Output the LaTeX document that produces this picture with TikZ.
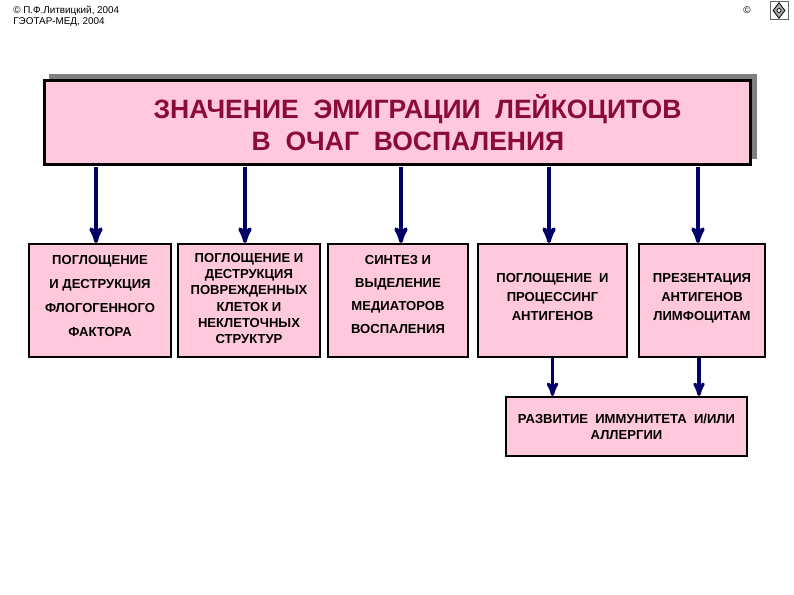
\documentclass[tikz,border=0pt]{standalone}
\usepackage{fontspec}
\setmainfont{Liberation Sans}
\usetikzlibrary{arrows,shadows,shapes.geometric}
\definecolor{rosefill}{HTML}{FFC8DC}
\definecolor{wine}{HTML}{8A0A3C}
\definecolor{arrownavy}{HTML}{000066}
\begin{document}
\begin{tikzpicture}[x=0.75pt,y=0.75pt,>=stealth',semithick]
\tikzstyle{boxy}=[draw=black,fill=rosefill,line width=1.5pt,align=center,inner sep=0pt,font=\fontsize{9.8}{12}\selectfont\bfseries]
\tikzstyle{link}=[->,draw=arrownavy,line width=2.8pt]
\tikzstyle{smalllink}=[->,draw=arrownavy,line width=2.3pt]
\tikzstyle{imprint}=[inner sep=0pt,anchor=west,font=\fontsize{7.4}{8}\selectfont]
\useasboundingbox (0,0) rectangle (794,-595);
% header
\node[imprint] (copyA) at (13,-10.5) {© П.Ф.Литвицкий, 2004};
\node[imprint] (copyB) at (13,-22.5) {ГЭОТАР-МЕД, 2004};
\node[imprint] (copyC) at (743,-10) {©};
\node[draw=black!60,line width=0.5pt,minimum width=13.5pt,minimum height=14pt,inner sep=0pt] (icon) at (779,-10.5) {};
\node[diamond,draw=black,fill=black!35,line width=0.6pt,minimum width=9pt,minimum height=12pt,inner sep=0pt] (iconB) at (icon) {};
\node[draw=black,fill=white,circle,line width=0.5pt,minimum size=3pt,inner sep=0pt] (iconC) at (icon) {};
% title
\node[draw=black,fill=rosefill,line width=2.25pt,minimum width=529.5pt,minimum height=63pt,align=center,inner sep=0pt,text=wine,
  font=\fontsize{19.9}{24}\selectfont\bfseries,
  drop shadow={shadow xshift=4.5pt,shadow yshift=4.5pt,shadow scale=1.004,fill=black!50,opacity=1}] (title) at (397,-122.5)
  {\hspace*{30.8pt}ЗНАЧЕНИЕ~~ЭМИГРАЦИИ~~ЛЕЙКОЦИТОВ\\\hspace*{16.5pt}В~~ОЧАГ~~ВОСПАЛЕНИЯ};
% first row
\node[boxy,minimum width=106.5pt,minimum height=84.75pt] (p1) at (100,-300.5)
  {ПОГЛОЩЕНИЕ\\[6pt]И ДЕСТРУКЦИЯ\\[6pt]ФЛОГОГЕННОГО\\[6pt]ФАКТОРА\\[-4.5pt]\mbox{}};
\node[boxy,minimum width=106.5pt,minimum height=84.75pt,right of=p1,node distance=111.75pt] (p2)
  {ПОГЛОЩЕНИЕ И\\[.15pt]ДЕСТРУКЦИЯ\\[.15pt]ПОВРЕЖДЕННЫХ\\[.15pt]КЛЕТОК И\\[.15pt]НЕКЛЕТОЧНЫХ\\[.15pt]СТРУКТУР\\[-9pt]\mbox{}};
\node[boxy,minimum width=105pt,minimum height=84.75pt,right of=p2,node distance=111.75pt] (p3)
  {СИНТЕЗ И\\[5.25pt]ВЫДЕЛЕНИЕ\\[5.25pt]МЕДИАТОРОВ\\[5.25pt]ВОСПАЛЕНИЯ\\[-3.5pt]\mbox{}};
\node[boxy,minimum width=111.75pt,minimum height=84.75pt,right of=p3,node distance=115.875pt] (p4)
  {ПОГЛОЩЕНИЕ~~И\\[2.25pt]ПРОЦЕССИНГ\\[2.25pt]АНТИГЕНОВ\\[-6pt]\mbox{}};
\node[boxy,minimum width=94.5pt,minimum height=84.75pt,right of=p4,node distance=112.125pt] (p5)
  {ПРЕЗЕНТАЦИЯ\\[2.25pt]АНТИГЕНОВ\\[2.25pt]ЛИМФОЦИТАМ\\[-6pt]\mbox{}};
% result
\node[boxy,minimum width=180.75pt,minimum height=44.25pt] (res) at (626.5,-426.5)
  {РАЗВИТИЕ~~ИММУНИТЕТА~~И/ИЛИ\\АЛЛЕРГИИ};
% arrows
\path ([xshift=-3pt,yshift=-1pt]title.south -| p1.north) edge[link] ([xshift=-3pt]p1.north)
      ([xshift=-3pt,yshift=-1pt]title.south -| p2.north) edge[link] ([xshift=-3pt]p2.north)
      ([xshift=2.25pt,yshift=-1pt]title.south -| p3.north) edge[link] ([xshift=2.25pt]p3.north)
      ([xshift=-2.6pt,yshift=-1pt]title.south -| p4.north) edge[link] ([xshift=-2.6pt]p4.north)
      ([xshift=-3pt,yshift=-1pt]title.south -| p5.north) edge[link] ([xshift=-3pt]p5.north)
      (p4.south) edge[smalllink] (p4.south |- res.north)
      ([xshift=-2.25pt]p5.south) edge[smalllink] ([xshift=-2.25pt]p5.south |- res.north);
\end{tikzpicture}
\end{document}
